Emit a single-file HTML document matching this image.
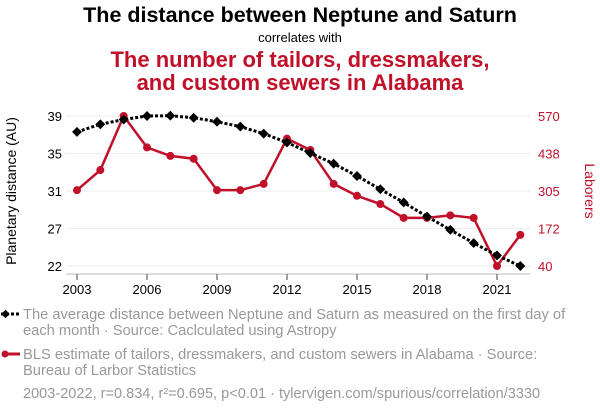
<!DOCTYPE html>
<html><head><meta charset="utf-8"><style>
body{margin:0;width:600px;height:414px;background:#fff;font-family:"Liberation Sans",sans-serif;overflow:hidden}
svg text{font-family:"Liberation Sans",sans-serif}
</style></head><body>
<svg id="c" width="600" height="414">
<text x="300" y="22" text-anchor="middle" font-size="21.5" font-weight="bold" fill="#000">The distance between Neptune and Saturn</text>
<text x="300" y="42" text-anchor="middle" font-size="13" fill="#000">correlates with</text>
<text x="300" y="67" text-anchor="middle" font-size="22" font-weight="bold" fill="#c0102a">The number of tailors, dressmakers,</text>
<text x="300" y="90" text-anchor="middle" font-size="22" font-weight="bold" fill="#c0102a">and custom sewers in Alabama</text>
<text transform="translate(16,191) rotate(-90)" text-anchor="middle" font-size="14" fill="#000">Planetary distance (AU)</text>
<text transform="translate(585,191) rotate(90)" text-anchor="middle" font-size="14" fill="#c0102a">Laborers</text>
<g id="grid"></g><g id="axes"></g><g id="series"></g>
<g>
<line x1="1" y1="314" x2="20" y2="314" stroke="#000" stroke-width="3" stroke-dasharray="3,2"/>
<rect x="2.5" y="311" width="6" height="6" transform="rotate(45 5.5 314)" fill="#000"/>
<text x="23" y="319" font-size="14.7" fill="#999">The average distance between Neptune and Saturn as measured on the first day of</text>
<text x="23" y="335" font-size="14.7" fill="#999">each month · Source: Caclculated using Astropy</text>
<line x1="3" y1="354" x2="20" y2="354" stroke="#c0102a" stroke-width="3"/>
<circle cx="5" cy="354" r="3.5" fill="#c0102a"/>
<text x="23" y="359" font-size="14.7" fill="#999">BLS estimate of tailors, dressmakers, and custom sewers in Alabama · Source:</text>
<text x="23" y="375" font-size="14.7" fill="#999">Bureau of Larbor Statistics</text>
<text x="23" y="398" font-size="14.55" fill="#999">2003-2022, r=0.834, r²=0.695, p&lt;0.01 · tylervigen.com/spurious/correlation/3330</text>
</g>
</svg>
<script>
const years=[2003,2004,2005,2006,2007,2008,2009,2010,2011,2012,2013,2014,2015,2016,2017,2018,2019,2020,2021,2022];
const distance=[37.2,38.06,38.6,39.0,39.03,38.8,38.35,37.8,37.0,36.0,34.8,33.6,32.2,30.7,29.2,27.6,26.1,24.6,23.2,22.0];
const laborers=[308,379,570,459,429,419,308,308,330,490,450,330,288,259,210,210,219,210,40,150];
const leftTicks=[39,35,31,27,22];
const rightTicks=[570,438,305,172,40];
const xTicks=[2003,2006,2009,2012,2015,2018,2021];
const NS='http://www.w3.org/2000/svg';
const x=y=>77+(y-2003)*(420/18);
const yL=v=>266-(v-22)/17*150;
const yR=v=>266-(v-40)/530*150;
function mk(t,a,p){const e=document.createElementNS(NS,t);for(const k in a)e.setAttribute(k,a[k]);p.appendChild(e);return e;}
const grid=document.getElementById('grid'),axes=document.getElementById('axes'),ser=document.getElementById('series');
leftTicks.forEach((t,i)=>{const gy=116+i*37.5;
 const l=mk('line',{x1:66,x2:530,y1:gy,y2:gy,stroke:'#eee','stroke-width':1},grid);
 
 const a=mk('text',{x:62,y:gy+5,'text-anchor':'end','font-size':13,fill:'#000'},axes);a.textContent=t;
 
 const b=mk('text',{x:538,y:gy+5,'font-size':13,fill:'#c0102a'},axes);b.textContent=rightTicks[i];
 
});
mk('line',{x1:66,x2:530,y1:274,y2:274,stroke:'#bbb'},axes);
xTicks.forEach(t=>{mk('line',{x1:x(t),x2:x(t),y1:274,y2:280,stroke:'#444'},axes);
 const e=mk('text',{x:x(t),y:294,'text-anchor':'middle','font-size':13,fill:'#000'},axes);e.textContent=t;
 });
const rl=mk('polyline',{points:years.map((y,i)=>x(y)+','+yR(laborers[i])).join(' '),fill:'none',stroke:'#c0102a','stroke-width':2.5},ser);

years.forEach((y,i)=>{const c=mk('circle',{cx:x(y),cy:yR(laborers[i]),r:4,fill:'#c0102a'},ser);
 });
const dl=mk('polyline',{points:years.map((y,i)=>x(y)+','+yL(distance[i])).join(' '),fill:'none',stroke:'#000','stroke-width':3,'stroke-dasharray':'3,2'},ser);

years.forEach((y,i)=>{const cx=x(y),cy=yL(distance[i]);
 const r=mk('rect',{x:cx-3.5,y:cy-3.5,width:7,height:7,fill:'#000',transform:`rotate(45 ${cx} ${cy})`},ser);
 });
</script>
</body></html>
